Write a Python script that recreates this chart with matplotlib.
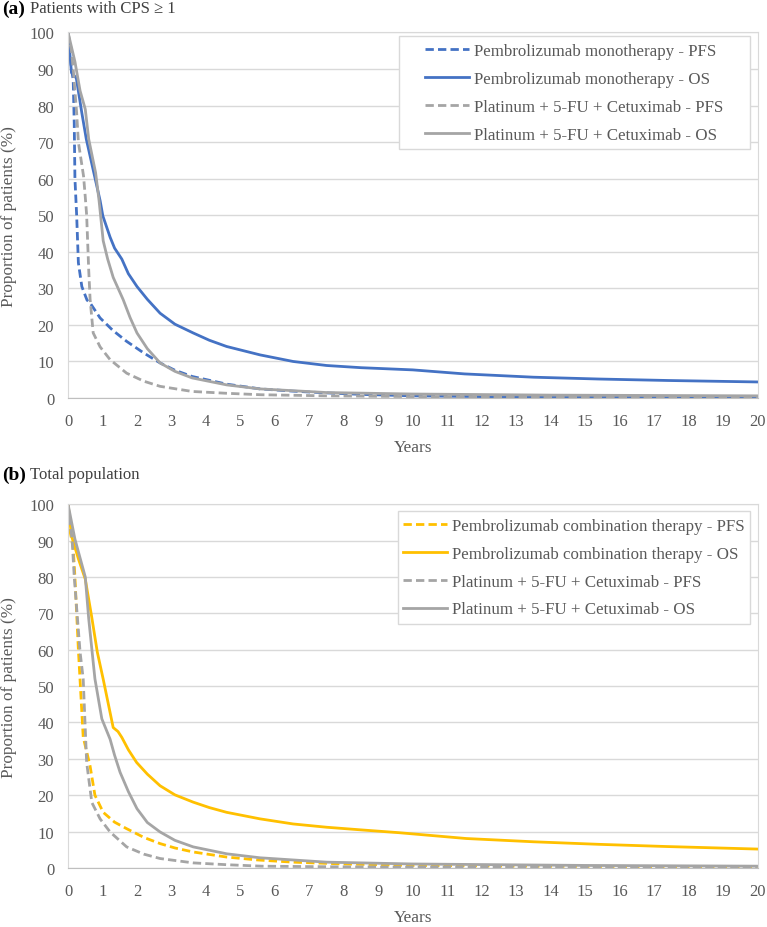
import matplotlib.pyplot as plt
from matplotlib.patches import Rectangle

plt.rcParams['font.family'] = ['Liberation Serif', 'DejaVu Serif']

# panel (a): patients with CPS >= 1
a_mono_pfs_t = [0, 0.1, 0.15, 0.18, 0.2, 0.25, 0.3, 0.4, 0.55, 0.64, 0.93, 1.3, 1.7, 2.2, 2.67, 3.1, 3.6, 4.6, 5.57, 6.5, 7.5, 8.5, 10, 12, 15, 20]
a_mono_pfs_y = [100, 90, 87, 75, 60, 50, 37, 30.5, 26.8, 26, 21.9, 18.5, 15.5, 12.3, 9.6, 7.6, 5.9, 3.8, 2.5, 1.9, 1.4, 1.0, 0.6, 0.4, 0.2, 0.1]
a_mono_os_t = [0, 0.1, 0.24, 0.4, 0.53, 0.77, 0.93, 1.01, 1.22, 1.35, 1.56, 1.75, 2.0, 2.3, 2.67, 3.1, 3.63, 4.1, 4.6, 5.57, 6.53, 7.5, 8.5, 10, 11.5, 13.5, 15.4, 17.4, 20]
a_mono_os_y = [100, 89, 87.5, 78, 70.8, 60.7, 54, 49.8, 44, 41, 38, 34, 30.5, 27, 23.2, 20.2, 17.8, 15.8, 14.1, 11.8, 10, 8.9, 8.3, 7.7, 6.6, 5.7, 5.2, 4.8, 4.4]
a_plat_pfs_t = [0, 0.1, 0.15, 0.25, 0.3, 0.45, 0.5, 0.54, 0.6, 0.64, 0.73, 0.93, 1.22, 1.7, 2.2, 2.67, 3.6, 4.6, 5.6, 7.5, 10, 15, 20]
a_plat_pfs_y = [100, 95, 90, 78, 70, 60.7, 55, 50, 35, 27, 17.8, 14, 10.5, 6.8, 4.6, 3.2, 1.8, 1.3, 0.9, 0.6, 0.4, 0.3, 0.2]
a_plat_os_t = [0, 0.2, 0.35, 0.5, 0.6, 0.8, 0.9, 1.02, 1.15, 1.31, 1.6, 1.8, 2.0, 2.3, 2.67, 3.1, 3.6, 4.6, 5.57, 7.5, 10, 14, 20]
a_plat_os_y = [100, 92, 84, 79, 70.8, 61.6, 54, 43, 38, 33, 26.9, 22, 17.8, 13.5, 9.6, 7.3, 5.5, 3.6, 2.5, 1.5, 1.1, 0.8, 0.6]

# panel (b): total population
b_comb_pfs_t = [0, 0.05, 0.15, 0.2, 0.3, 0.44, 0.64, 0.78, 1.02, 1.35, 1.7, 2.2, 2.67, 3.1, 3.63, 4.6, 5.5, 6.53, 8, 10, 13, 16, 20]
b_comb_pfs_y = [100, 93, 88, 80, 60, 36, 28, 20, 15.3, 12.6, 10.8, 8.4, 6.7, 5.5, 4.4, 3, 2.2, 1.6, 1.1, 0.7, 0.5, 0.4, 0.3]
b_comb_os_t = [0, 0.1, 0.3, 0.5, 0.68, 0.85, 1.02, 1.31, 1.45, 1.56, 1.75, 1.99, 2.3, 2.67, 3.1, 3.63, 4.1, 4.6, 5.57, 6.53, 7.5, 8.46, 9.6, 11.55, 13.5, 15.4, 17.35, 20]
b_comb_os_y = [100, 91.3, 85, 79.4, 69.4, 59.3, 51.9, 38.6, 37.5, 35.9, 32.5, 29, 25.8, 22.6, 20.1, 18.1, 16.6, 15.3, 13.5, 12.1, 11.2, 10.5, 9.7, 8.1, 7.2, 6.5, 5.9, 5.2]
b_plat_pfs_t = [0, 0.12, 0.18, 0.35, 0.44, 0.54, 0.69, 0.93, 1.22, 1.7, 2.2, 2.67, 3.63, 4.6, 5.6, 8, 12, 20]
b_plat_pfs_y = [100, 90, 80, 59.3, 52, 29, 18, 13.5, 9.9, 5.8, 3.8, 2.6, 1.4, 0.9, 0.5, 0.3, 0.2, 0.1]
b_plat_os_t = [0, 0.2, 0.5, 0.6, 0.7, 0.78, 0.98, 1.22, 1.35, 1.51, 1.75, 2.0, 2.3, 2.67, 3.1, 3.63, 4.6, 5.57, 7.5, 10, 15, 20]
b_plat_os_y = [100, 90.4, 80, 68.5, 59.3, 52, 41, 35.4, 31, 26.3, 21, 16.3, 12.5, 9.9, 7.6, 5.8, 3.9, 2.8, 1.6, 1.1, 0.7, 0.5]

BLUE = '#4472C4'
GRAY = '#A5A5A5'
GOLD = '#FFC000'
TXT = '#595959'

fig = plt.figure(figsize=(7.67, 9.28), dpi=100)
ax_a = fig.add_axes([0.0887, 0.570, 0.899, 0.394])
ax_b = fig.add_axes([0.0887, 0.0636, 0.899, 0.392])


def style(ax, box):
    ax.set_xlim(0, 20)
    ax.set_ylim(0, 100)
    ax.set_xticks(range(0, 21))
    ax.set_yticks(range(0, 101, 10))
    ax.grid(axis='y', color='#d9d9d9', linewidth=1)
    ax.set_axisbelow(True)
    for s in ax.spines.values():
        s.set_color('#d9d9d9')
    ax.spines['bottom'].set_color('#bfbfbf')
    ax.tick_params(length=0, labelsize=12, colors=TXT)
    ax.tick_params(axis='x', pad=11)
    ax.tick_params(axis='y', pad=10)
    ax.set_xlabel('Years', fontsize=12.4, color=TXT, labelpad=7)
    ax.set_ylabel('Proportion of patients (%)', fontsize=12.4, color=TXT, labelpad=9)
    # legend frame is fixed size, entries centred in it
    x0, y0, x1, y1 = box
    ax.add_patch(Rectangle((x0, y0), x1 - x0, y1 - y0, transform=ax.transAxes,
                           facecolor='white', edgecolor='#d9d9d9', lw=1, zorder=4))
    leg = ax.legend(loc='center', bbox_to_anchor=((x0 + x1) / 2, (y0 + y1) / 2),
                    fontsize=12.2, frameon=False, handlelength=2.6, handletextpad=0.3,
                    borderpad=0, labelspacing=0.7)
    leg.set_zorder(5)
    for t in leg.get_texts():
        t.set_color(TXT)


dash = (0, (3, 1.5))

ax_a.plot(a_mono_pfs_t, a_mono_pfs_y, color=BLUE, lw=2, ls=dash, label='Pembrolizumab monotherapy - PFS')
ax_a.plot(a_mono_os_t, a_mono_os_y, color=BLUE, lw=2, label='Pembrolizumab monotherapy - OS')
ax_a.plot(a_plat_pfs_t, a_plat_pfs_y, color=GRAY, lw=2, ls=dash, label='Platinum + 5-FU + Cetuximab - PFS')
ax_a.plot(a_plat_os_t, a_plat_os_y, color=GRAY, lw=2, label='Platinum + 5-FU + Cetuximab - OS')
style(ax_a, (0.4797, 0.680, 0.9884, 0.989))

ax_b.plot(b_comb_pfs_t, b_comb_pfs_y, color=GOLD, lw=2, ls=dash, label='Pembrolizumab combination therapy - PFS')
ax_b.plot(b_comb_os_t, b_comb_os_y, color=GOLD, lw=2, label='Pembrolizumab combination therapy - OS')
ax_b.plot(b_plat_pfs_t, b_plat_pfs_y, color=GRAY, lw=2, ls=dash, label='Platinum + 5-FU + Cetuximab - PFS')
ax_b.plot(b_plat_os_t, b_plat_os_y, color=GRAY, lw=2, label='Platinum + 5-FU + Cetuximab - OS')
style(ax_b, (0.478, 0.670, 0.9884, 0.981))

fig.text(0.003, 0.990, '(a)', fontsize=14, fontweight='bold', va='center', ha='left')
fig.text(0.039, 0.990, 'Patients with CPS \u2265 1', fontsize=12, va='center', ha='left', color='#404040')
fig.text(0.003, 0.488, '(b)', fontsize=14, fontweight='bold', va='center', ha='left')
fig.text(0.039, 0.488, 'Total population', fontsize=12, va='center', ha='left', color='#404040')

fig.savefig('out.png', dpi=100)
